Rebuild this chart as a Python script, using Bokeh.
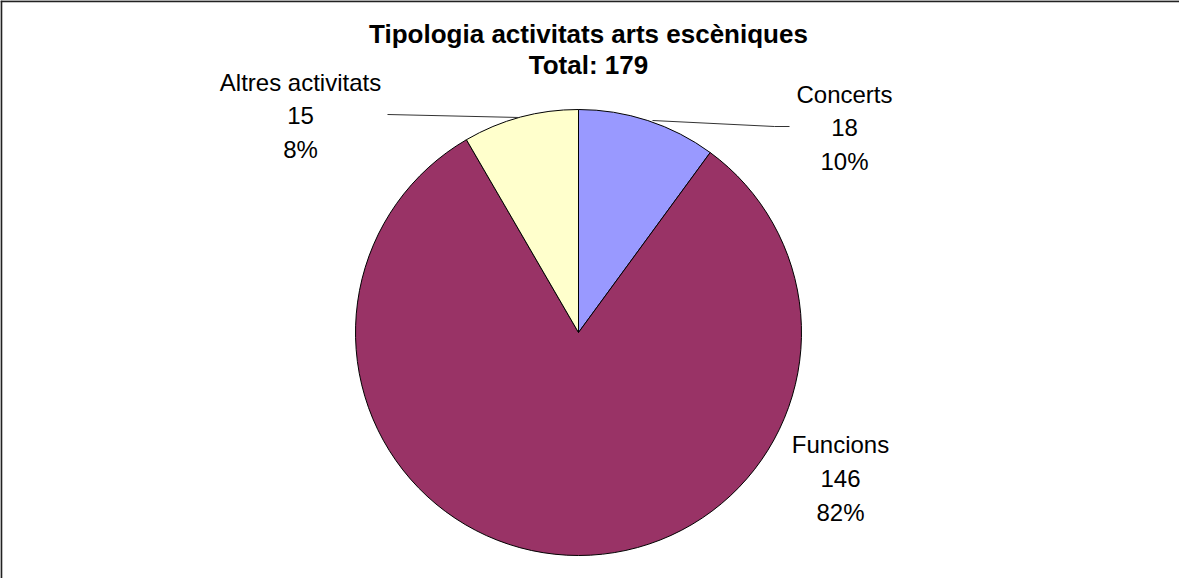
import math
from bokeh.plotting import figure
from bokeh.models import Range1d, Span, ColumnDataSource
from bokeh.core.properties import value
from bokeh.embed import file_html
from bokeh.resources import INLINE

# ---- data ----
categories = ["Concerts", "Funcions", "Altres activitats"]
counts = [18, 146, 15]
colors = ["#9999FF", "#993366", "#FFFFCC"]
title_lines = ["Tipologia activitats arts escèniques", "Total: 179"]

total = sum(counts)
pcts = [f"{round(c / total * 100)}%" for c in counts]

# ---- layout ----
W, H = 1179, 578
p = figure(width=W, height=H, output_backend="svg", toolbar_location=None,
           x_range=Range1d(0, W), y_range=Range1d(0, H), min_border=0)
p.axis.visible = False
p.grid.visible = False
p.outline_line_color = None
p.background_fill_color = "white"
p.border_fill_color = "white"

# frame (left & top edges visible in reference)
p.add_layout(Span(location=0.8, dimension="height", line_color="#222222", line_width=2))
p.add_layout(Span(location=H - 0.8, dimension="width", line_color="#222222", line_width=2))

cx, cy, r = 578, 246, 223

# wedges, clockwise from 12 o'clock
starts, ends = [], []
a = math.pi / 2
for c in counts:
    da = c / total * 2 * math.pi
    starts.append(a)
    ends.append(a - da)
    a -= da
src = ColumnDataSource(dict(start=starts, end=ends, color=colors, cat=categories))
p.wedge(x=cx, y=cy, radius=r, start_angle="start", end_angle="end", direction="clock",
        fill_color="color", line_color="black", line_width=1, source=src)

# leader lines
p.line([387, 519], [464, 461], line_color="#333333", line_width=1)
p.line([652, 774, 789], [458, 452, 452], line_color="#333333", line_width=1)

# titles
font = value("Liberation Sans")
p.text(x=[588, 588], y=[545, 514], text=title_lines, text_font=font,
       text_font_size="26px", text_font_style="bold", text_align="center",
       text_baseline="middle", text_color="black")

# labels (name, count, percent)
label_pos = {"Altres activitats": (300, [496, 463, 429]),
             "Concerts": (844, [484, 451, 417]),
             "Funcions": (840, [134, 100, 66])}
for i, cat in enumerate(categories):
    lx, ys = label_pos[cat]
    p.text(x=[lx] * 3, y=ys, text=[cat, str(counts[i]), pcts[i]], text_font=font,
           text_font_size="24px", text_align="center", text_baseline="middle",
           text_color="black")

open("out.html", "w").write(file_html(p, INLINE))
